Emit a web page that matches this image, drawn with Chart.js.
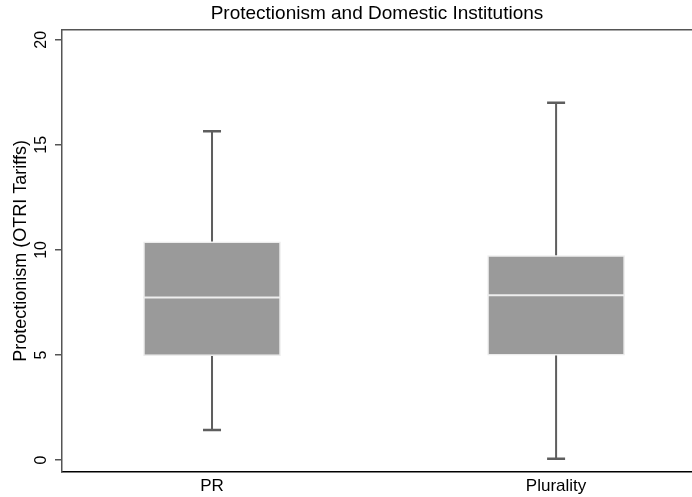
<!DOCTYPE html>
<html>
<head>
<meta charset="utf-8">
<script src="https://cdn.jsdelivr.net/npm/chart.js@4.4.1/dist/chart.umd.min.js"></script>
<style>
    body { margin: 0; background: #ffffff; }
    #wrap { width: 692px; height: 497px; }
</style>
</head>
<body>
<div id="wrap"><canvas id="myChart"></canvas></div>
<script>
//Categories on the x axis
const categories = ['PR', 'Plurality'];

//Box plot values for each category
const lowerWhisker = [1.43, 0.06];
const q1 = [4.95, 4.97];
const median = [7.73, 7.84];
const q3 = [10.4, 9.75];
const upperWhisker = [15.65, 17.0];

//Tick labels for the y axis
const yTicks = [0, 5, 10, 15, 20];

const fontFamily = "'Liberation Sans', Arial, sans-serif";

//Draws the whiskers, caps, median line and the top frame line
const boxPlugin = {
    id: 'boxExtras',
    afterDatasetsDraw(chart)
    {
        const ctx = chart.ctx;
        const xs = chart.scales.x;
        const ys = chart.scales.y;
        const bars = chart.getDatasetMeta(0).data;
        const area = chart.chartArea;

        ctx.save();

        for (var i = 0; i < categories.length; i++)
        {
            var cx = xs.getPixelForValue(i + 1);
            var half = bars[i].width / 2;

            //whiskers
            ctx.strokeStyle = '#5e5e5e';
            ctx.lineWidth = 2;
            ctx.beginPath();
            ctx.moveTo(cx, ys.getPixelForValue(q3[i]));
            ctx.lineTo(cx, ys.getPixelForValue(upperWhisker[i]));
            ctx.moveTo(cx, ys.getPixelForValue(q1[i]));
            ctx.lineTo(cx, ys.getPixelForValue(lowerWhisker[i]));
            ctx.stroke();

            //caps
            ctx.lineWidth = 2.5;
            ctx.beginPath();
            ctx.moveTo(cx - 9, ys.getPixelForValue(upperWhisker[i]));
            ctx.lineTo(cx + 9, ys.getPixelForValue(upperWhisker[i]));
            ctx.moveTo(cx - 9, ys.getPixelForValue(lowerWhisker[i]));
            ctx.lineTo(cx + 9, ys.getPixelForValue(lowerWhisker[i]));
            ctx.stroke();

            //median
            ctx.strokeStyle = '#eeeeee';
            ctx.lineWidth = 2;
            ctx.beginPath();
            ctx.moveTo(cx - half, ys.getPixelForValue(median[i]));
            ctx.lineTo(cx + half, ys.getPixelForValue(median[i]));
            ctx.stroke();
        }

        //top frame line
        ctx.strokeStyle = '#555555';
        ctx.lineWidth = 1.5;
        ctx.beginPath();
        ctx.moveTo(area.left, area.top);
        ctx.lineTo(area.right, area.top);
        ctx.stroke();

        ctx.restore();
    }
};

myChart();

function myChart()
{
    Chart.defaults.font.family = fontFamily;
    Chart.defaults.color = '#000000';

    const ctx = document.getElementById('myChart').getContext('2d');

    new Chart(ctx, {
        type: 'bar',
        data: {
            datasets: [{
                label: 'Protectionism',
                data: categories.map((c, i) => ({ x: i + 1, y: [q1[i], q3[i]] })),
                backgroundColor: '#9a9a9a',
                borderColor: '#ececec',
                borderWidth: 1.5,
                borderSkipped: false,
                barPercentage: 0.4,
                categoryPercentage: 1
            }]
        },
        options: {
            responsive: true,
            maintainAspectRatio: false,
            animation: false,
            layout: { padding: 0 },
            plugins: {
                legend: { display: false },
                tooltip: { enabled: false },
                title: {
                    display: true,
                    text: 'Protectionism and Domestic Institutions',
                    fullSize: false,
                    color: '#000000',
                    font: { size: 19, weight: 'normal' },
                    padding: { top: 2, bottom: 5 }
                }
            },
            scales: {
                x: {
                    type: 'linear',
                    offset: false,
                    min: 0.564,
                    max: 2.395,
                    afterBuildTicks: (scale) => { scale.ticks = categories.map((c, i) => ({ value: i + 1 })); },
                    afterFit: (scale) => { scale.height = 25; },
                    grid: { offset: false, drawOnChartArea: false, drawTicks: false },
                    border: { display: true, color: '#000000', width: 1.5 },
                    ticks: {
                        maxRotation: 0,
                        padding: 4,
                        font: { size: 17 },
                        callback: (v) => categories[v - 1]
                    }
                },
                y: {
                    min: -0.571,
                    max: 20.476,
                    afterBuildTicks: (scale) => { scale.ticks = yTicks.map(v => ({ value: v })); },
                    afterFit: (scale) => { scale.width = 62; },
                    grid: { drawOnChartArea: false, drawTicks: true, tickLength: 7, color: '#555555', lineWidth: 1.5 },
                    border: { display: true, color: '#555555', width: 1.5 },
                    ticks: {
                        minRotation: 90,
                        maxRotation: 90,
                        crossAlign: 'center',
                        padding: 5,
                        font: { size: 16 }
                    },
                    title: {
                        display: true,
                        text: 'Protectionism (OTRI Tariffs)',
                        color: '#000000',
                        font: { size: 18 },
                        padding: { top: 10, bottom: 0 }
                    }
                }
            }
        },
        plugins: [boxPlugin]
    });
}
</script>
</body>
</html>
